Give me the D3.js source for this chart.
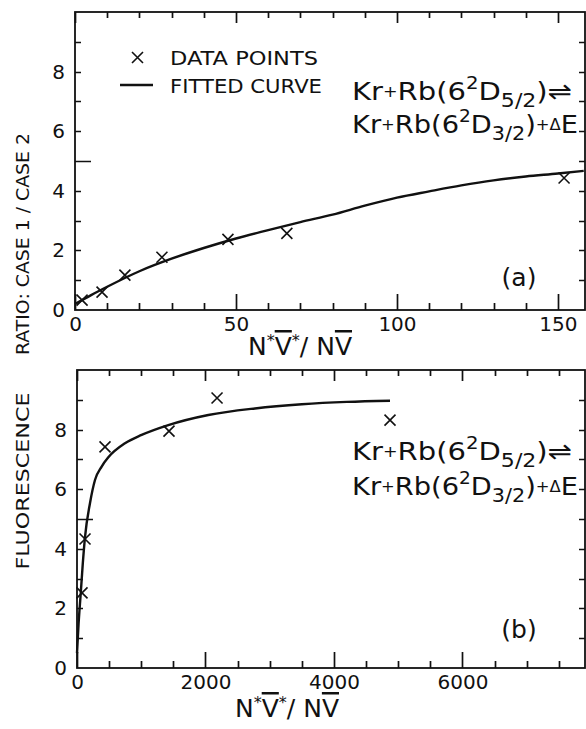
<!DOCTYPE html>
<html>
<head>
<meta charset="utf-8">
<script src="https://cdn.jsdelivr.net/npm/d3@7"></script>
<style>
  body { margin: 0; background: #fff; }
  svg { display: block; }
  text { font-family: "DejaVu Sans", sans-serif; fill: #111; }
</style>
</head>
<body>
<div id="chart"></div>
<script>
// panel (a) - ratio vs N*V*/NV, small range
var aPointsX = [2.2, 8.4, 15.5, 27, 47.5, 65.8, 151.9];
var aPointsY = [0.33, 0.6, 1.17, 1.77, 2.37, 2.57, 4.43];
var aCurveX = [0, 5, 10, 20, 30, 40, 50, 60, 70, 80, 90, 100, 110, 120, 130, 140, 150, 158];
var aCurveY = [0.2, 0.5, 0.78, 1.3, 1.72, 2.08, 2.4, 2.68, 2.95, 3.2, 3.5, 3.77, 3.98, 4.18, 4.35, 4.48, 4.58, 4.67];
var aXTicks = [0, 50, 100, 150];

// panel (b) - wide range
var bPointsX = [78, 125, 436, 1432, 2180, 4872];
var bPointsY = [2.52, 4.33, 7.42, 7.95, 9.06, 8.32];
var bCurveX = [0, 25, 58, 90, 125, 202, 280, 384, 488, 747, 1006, 1421, 2044, 2770, 3500, 4200, 4872];
var bCurveY = [0.5, 1.5, 2.5, 3.5, 4.4, 5.53, 6.31, 6.76, 7.07, 7.54, 7.82, 8.15, 8.49, 8.71, 8.85, 8.93, 8.97];
var bXTicks = [0, 2000, 4000, 6000];

var yLabelTicks = [0, 2, 4, 6, 8];
var legendLabels = ["DATA POINTS", "FITTED CURVE"];

var width = 586, height = 729;
var svg = d3.select("#chart").append("svg").attr("width", width).attr("height", height);
var ink = "#111";

function panel(opts) {
  var x = d3.scaleLinear().domain([0, opts.xMax]).range([opts.left, 585]);
  var y = d3.scaleLinear().domain([0, 10]).range([opts.bottom, opts.top]);
  var g = svg.append("g");

  // frame
  g.append("rect")
    .attr("x", x.range()[0]).attr("y", y.range()[1])
    .attr("width", x.range()[1] - x.range()[0])
    .attr("height", y.range()[0] - y.range()[1])
    .attr("fill", "none").attr("stroke", ink).attr("stroke-width", 1.8);

  // inward tick marks as one path, positions from the scales
  var minorX = d3.range(0, opts.xMax, opts.xMinor);
  var d = "";
  minorX.forEach(function (v) {
    var major = opts.xTicks.indexOf(v) >= 0;
    var px = Math.round(x(v)) + 0.5;
    d += "M" + px + "," + opts.bottom + "V" + (opts.bottom - (major ? 16 : 7));
    d += "M" + px + "," + opts.top + "V" + (opts.top + (major ? 11 : 6));
  });
  d3.range(1, 10).forEach(function (v) {
    var py = Math.round(y(v)) + 0.5;
    d += "M" + opts.left + "," + py + "H" + (opts.left + (v === 5 ? 16 : 6));
    d += "M585," + py + "H579";
  });
  g.append("path").attr("class", "ticks").attr("d", d)
    .attr("fill", "none").attr("stroke", ink).attr("stroke-width", 1.7);

  // tick labels from d3 axes
  g.append("g").attr("transform", "translate(0," + opts.bottom + ")")
    .call(d3.axisBottom(x).tickValues(opts.xTicks).tickSize(0).tickPadding(7).tickFormat(d3.format("d")))
    .call(function (s) { s.select(".domain").remove(); s.selectAll("text").style("font-size", "20px").attr("fill", ink); });
  g.append("g").attr("transform", "translate(" + opts.left + ",0)")
    .call(d3.axisLeft(y).tickValues(yLabelTicks).tickSize(0).tickPadding(10))
    .call(function (s) { s.select(".domain").remove(); s.selectAll("text").style("font-size", "20px").attr("fill", ink); });

  // fitted curve
  var line = d3.line().curve(d3.curveMonotoneX)
    .x(function (d) { return x(d[0]); })
    .y(function (d) { return y(d[1]); });
  g.append("path")
    .datum(opts.curveX.map(function (v, i) { return [v, opts.curveY[i]]; }))
    .attr("d", line)
    .attr("fill", "none").attr("stroke", ink).attr("stroke-width", 2.4);

  // data points as crosses
  var s = 5.5;
  g.selectAll("path.pt")
    .data(opts.pointsX.map(function (v, i) { return [v, opts.pointsY[i]]; }))
    .enter().append("path")
    .attr("class", "pt")
    .attr("d", function (d) {
      var cx = x(d[0]), cy = y(d[1]);
      return "M" + (cx - s) + "," + (cy - s) + "L" + (cx + s) + "," + (cy + s) +
        "M" + (cx - s) + "," + (cy + s) + "L" + (cx + s) + "," + (cy - s);
    })
    .attr("stroke", ink).attr("stroke-width", 1.6).attr("fill", "none");

  // reaction annotation
  var l1 = g.append("text").attr("x", 352).attr("y", opts.annY1).style("font-size", "25px")
    .attr("textLength", 220).attr("lengthAdjust", "spacingAndGlyphs");
  l1.append("tspan").text("Kr");
  l1.append("tspan").style("font-size", "15px").attr("dy", -3).text("+");
  l1.append("tspan").attr("dy", 3).text("Rb(6");
  l1.append("tspan").style("font-size", "17px").attr("dy", -11).text("2");
  l1.append("tspan").attr("dy", 11).text("D");
  l1.append("tspan").style("font-size", "19px").attr("dy", 7).text("5/2");
  l1.append("tspan").attr("dy", -7).text(")\u21CC");

  var l2 = g.append("text").attr("x", 352).attr("y", opts.annY2).style("font-size", "25px")
    .attr("textLength", 226).attr("lengthAdjust", "spacingAndGlyphs");
  l2.append("tspan").text("Kr");
  l2.append("tspan").style("font-size", "15px").attr("dy", -3).text("+");
  l2.append("tspan").attr("dy", 3).text("Rb(6");
  l2.append("tspan").style("font-size", "17px").attr("dy", -11).text("2");
  l2.append("tspan").attr("dy", 11).text("D");
  l2.append("tspan").style("font-size", "19px").attr("dy", 7).text("3/2");
  l2.append("tspan").attr("dy", -7).text(")");
  l2.append("tspan").style("font-size", "15px").attr("dy", -3).text("+\u0394");
  l2.append("tspan").attr("dy", 3).text("E");

  g.append("text").attr("x", 519).attr("y", opts.tagY).attr("text-anchor", "middle")
    .style("font-size", "25px").text(opts.tag);

  // x axis title N*V*/NV (V with bar)
  var t = g.append("text").attr("x", opts.titleX).attr("y", opts.titleY).attr("text-anchor", "middle").style("font-size", "25px");
  t.append("tspan").text("N");
  t.append("tspan").style("font-size", "16px").attr("dy", -9).text("*");
  t.append("tspan").attr("dy", 9).style("text-decoration", "overline").text("V");
  t.append("tspan").style("font-size", "16px").attr("dy", -9).text("*");
  t.append("tspan").attr("dy", 9).text("/ N");
  t.append("tspan").style("text-decoration", "overline").text("V");

  return { x: x, y: y, g: g };
}

var a = panel({
  left: 75, top: 12, bottom: 310, xMax: 158.4, xMinor: 10, xTicks: aXTicks,
  pointsX: aPointsX, pointsY: aPointsY, curveX: aCurveX, curveY: aCurveY,
  annY1: 100, annY2: 133, tag: "(a)", tagY: 286, titleX: 300, titleY: 355
});
var b = panel({
  left: 77, top: 370, bottom: 668, xMax: 7907, xMinor: 500, xTicks: bXTicks,
  pointsX: bPointsX, pointsY: bPointsY, curveX: bCurveX, curveY: bCurveY,
  annY1: 460, annY2: 495, tag: "(b)", tagY: 638, titleX: 287, titleY: 717
});

// legend in panel (a)
var lg = svg.append("g");
lg.append("path")
  .attr("d", "M132,52L143,63M132,63L143,52")
  .attr("stroke", ink).attr("stroke-width", 1.6).attr("fill", "none");
lg.append("line").attr("x1", 120).attr("x2", 153).attr("y1", 85).attr("y2", 85)
  .attr("stroke", ink).attr("stroke-width", 2.4);
lg.selectAll("text.leg").data(legendLabels).enter().append("text")
  .attr("class", "leg")
  .attr("x", 170)
  .attr("y", function (d, i) { return 65 + i * 28; })
  .attr("textLength", function (d, i) { return i === 0 ? 148 : 152; })
  .attr("lengthAdjust", "spacingAndGlyphs")
  .style("font-size", "19px")
  .text(function (d) { return d; });

// shared y axis title, two word groups
svg.append("text")
  .attr("transform", "translate(29,481) rotate(-90)")
  .attr("text-anchor", "middle")
  .attr("textLength", 177).attr("lengthAdjust", "spacingAndGlyphs")
  .style("font-size", "17px")
  .text("FLUORESCENCE");
svg.append("text")
  .attr("transform", "translate(29,244) rotate(-90)")
  .attr("text-anchor", "middle")
  .attr("textLength", 222).attr("lengthAdjust", "spacingAndGlyphs")
  .style("font-size", "17px")
  .text("RATIO: CASE 1 / CASE 2");
</script>
</body>
</html>
